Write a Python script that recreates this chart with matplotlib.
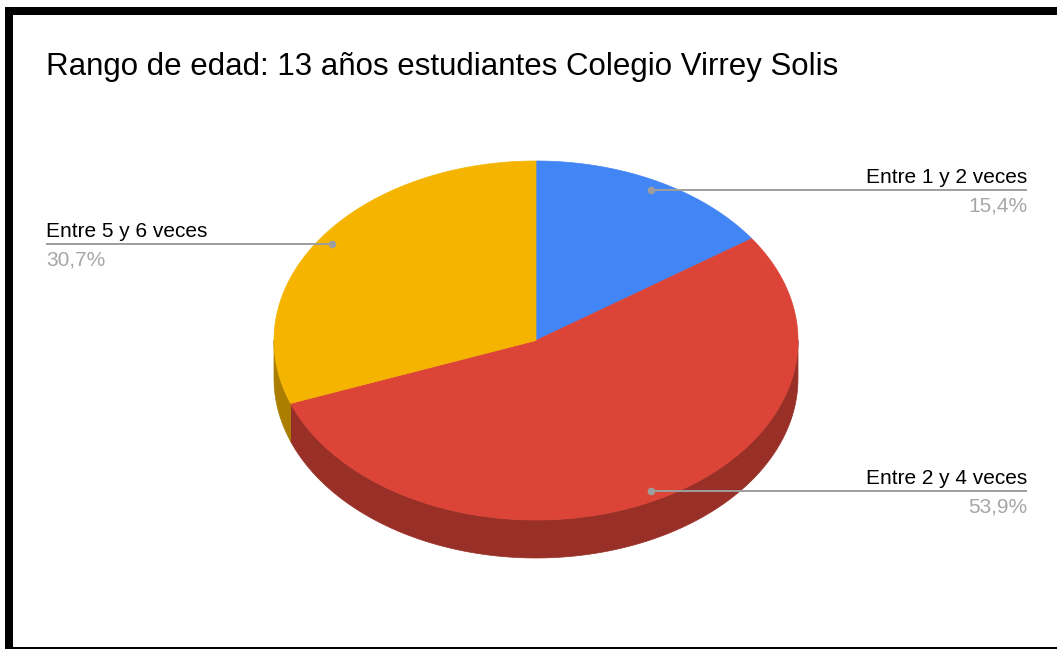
# 3D style pie chart with leader-line labels
import numpy as np

import matplotlib
matplotlib.use('Agg')
import matplotlib.pyplot as plt
from matplotlib.patches import Polygon, Rectangle
from matplotlib.colors import to_rgb

# Chart data
title = 'Rango de edad: 13 años estudiantes Colegio Virrey Solis'
categories = ['Entre 1 y 2 veces', 'Entre 2 y 4 veces', 'Entre 5 y 6 veces']
percentages = [15.4, 53.9, 30.7]
pct_labels = ['15,4%', '53,9%', '30,7%']
colors = ['#4285F4', '#DB4437', '#F4B400']

# Geometry in pixels (y grows downward)
W, H = 1057, 649
CX, CY = 536, 340.5
RX, RY = 262, 179.5
DEPTH = 38
LABEL_R = 0.947

plt.rcParams['font.family'] = ['Liberation Sans', 'DejaVu Sans']


def ellipse_pt(theta_deg, r=1.0, dy=0.0):
    # theta measured clockwise from the top of the ellipse
    t = np.radians(theta_deg)
    return CX + r * RX * np.sin(t), CY - r * RY * np.cos(t) + dy


def darker(c, f=0.7):
    return tuple(v * f for v in to_rgb(c))


fig = plt.figure(figsize=(W / 100, H / 100), dpi=100)
ax = fig.add_axes([0, 0, 1, 1])
ax.set_xlim(0, W)
ax.set_ylim(H, 0)
ax.axis('off')

# Frame
ax.add_patch(Rectangle((5, 7), 8, H - 7, color='black', lw=0))
ax.add_patch(Rectangle((5, 7), W - 5, 8, color='black', lw=0))
ax.add_patch(Rectangle((5, 647), W - 5, 3, color='black', lw=0))

total = sum(percentages)
bounds = np.concatenate([[0], np.cumsum(percentages) / total * 360])

# Side walls (only the front half is visible)
for i, c in enumerate(colors):
    a0, a1 = max(bounds[i], 90), min(bounds[i + 1], 270)
    if a1 <= a0:
        continue
    th = np.linspace(a0, a1, 120)
    xs, ys = ellipse_pt(th)
    pts = np.column_stack([np.r_[xs, xs[::-1]], np.r_[ys, ys[::-1] + DEPTH]])
    ax.add_patch(Polygon(pts, closed=True, fc=darker(c), ec=darker(c), lw=0.5))

# Top faces
for i, c in enumerate(colors):
    th = np.linspace(bounds[i], bounds[i + 1], 200)
    xs, ys = ellipse_pt(th)
    pts = np.column_stack([np.r_[CX, xs], np.r_[CY, ys]])
    ax.add_patch(Polygon(pts, closed=True, fc=c, ec=c, lw=0.5))

# Labels with leader lines
for i, (name, pct) in enumerate(zip(categories, pct_labels)):
    mid = (bounds[i] + bounds[i + 1]) / 2
    px, py = ellipse_pt(mid, LABEL_R)
    if px >= CX:
        x_end, ha = 1027, 'right'
    else:
        x_end, ha = 46, 'left'
    ax.plot([px, x_end], [py, py], color='#9e9e9e', lw=1.4, solid_capstyle='butt')
    ax.plot(px, py, 'o', color='#9e9e9e', ms=5.5, mec='none')
    ax.text(x_end, py - 7, name, ha=ha, va='baseline', fontsize=15, color='#000000')
    ax.text(x_end, py + 21.5, pct, ha=ha, va='baseline', fontsize=15, color='#a6a6a6')

ax.text(46, 74.5, title, ha='left', va='baseline', fontsize=22.5, color='#000000')

fig.savefig('out.png', dpi=100)
